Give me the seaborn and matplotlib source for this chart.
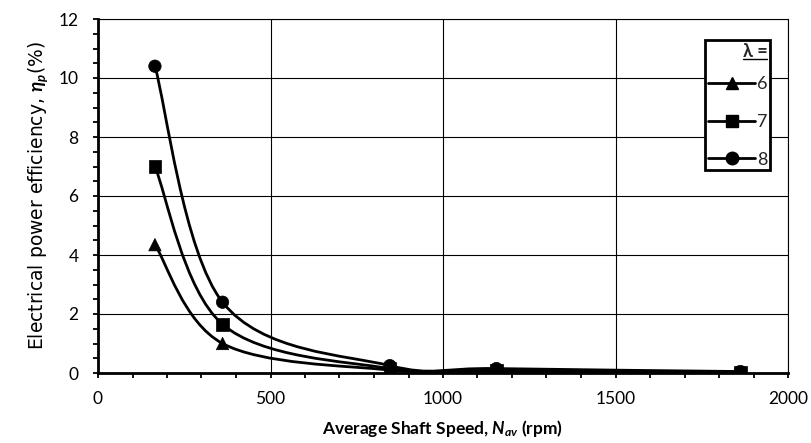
import numpy as np
import pandas as pd
import matplotlib
matplotlib.use("Agg")
import matplotlib.pyplot as plt
from matplotlib.path import Path
from matplotlib.patches import PathPatch
from matplotlib.ticker import MultipleLocator
from matplotlib.lines import Line2D
import seaborn as sns

# ---- data ----
speed = [165, 361, 846, 1155, 1862]
eff_l6 = [4.35, 1.0, 0.10, 0.05, 0.02]
eff_l7 = [7.0, 1.65, 0.15, 0.10, 0.03]
eff_l8 = [10.4, 2.4, 0.25, 0.15, 0.05]
lambdas = ["6", "7", "8"]
markers = {"6": "^", "7": "s", "8": "o"}

df = pd.DataFrame({
    "speed": speed * 3,
    "eff": eff_l6 + eff_l7 + eff_l8,
    "lam": ["6"] * 5 + ["7"] * 5 + ["8"] * 5,
})

sns.set_theme(style="white")
plt.rcParams["font.family"] = ["Lato", "DejaVu Sans"]
plt.rcParams["mathtext.fontset"] = "custom"
plt.rcParams["mathtext.it"] = "Lato:italic:bold"
plt.rcParams["mathtext.rm"] = "Lato"
plt.rcParams["mathtext.bf"] = "Lato:bold"

fig = plt.figure(figsize=(8.12, 4.43), dpi=100)
ax = fig.add_axes([98 / 812, 1 - 373 / 443, 690 / 812, 354 / 443])


def smooth_path(xs, ys):
    # Excel-style smoothed line: cubic Bezier segments through the data points
    pts = np.column_stack([xs, ys]).astype(float)
    n = len(pts)
    verts = [pts[0]]
    codes = [Path.MOVETO]
    for i in range(n - 1):
        p0 = pts[i - 1] if i > 0 else pts[i]
        p1 = pts[i]
        p2 = pts[i + 1]
        p3 = pts[i + 2] if i + 2 < n else pts[i + 1]
        c1 = p1 + (p2 - p0) / 6.0
        c2 = p2 - (p3 - p1) / 6.0
        verts += [c1, c2, p2]
        codes += [Path.CURVE4] * 3
    return Path(verts, codes)


for lam in lambdas:
    sub = df[df["lam"] == lam]
    ax.add_patch(PathPatch(smooth_path(sub["speed"], sub["eff"]), fill=False,
                           edgecolor="black", lw=2.0, zorder=3))

sns.scatterplot(data=df, x="speed", y="eff", style="lam", markers=markers,
                color="black", s=80, edgecolor="black", linewidth=0.5,
                legend=False, ax=ax, zorder=4)

ax.set_xlim(0, 2000)
ax.set_ylim(0, 12)
ax.xaxis.set_major_locator(MultipleLocator(500))
ax.xaxis.set_minor_locator(MultipleLocator(100))
ax.yaxis.set_major_locator(MultipleLocator(2))
ax.yaxis.set_minor_locator(MultipleLocator(0.5))
ax.grid(True, which="major", color="black", lw=0.8)
ax.set_axisbelow(True)
for s in ax.spines.values():
    s.set_color("black")
    s.set_linewidth(0.8)
ax.spines["left"].set_linewidth(2.0)
ax.spines["bottom"].set_linewidth(2.0)
ax.tick_params(axis="x", which="major", pad=9.4)
ax.tick_params(axis="y", which="major", pad=10.4)
ax.tick_params(axis="both", which="major", direction="out", length=3.6,
               width=1.3, color="black", labelsize=12.5, labelcolor="black",
               bottom=True, left=True)
ax.tick_params(axis="both", which="minor", direction="out", length=3.6,
               width=1.3, color="black", bottom=True, left=True)

ax.set_xlabel(r"Average Shaft Speed, $N_{av}$ (rpm)",
              fontsize=12.5, fontweight="bold", color="black", labelpad=8)
ax.set_ylabel(r"Electrical power efficiency, $\eta_{p}$(%)",
              fontsize=13.5, color="black", labelpad=6,
              fontfamily=["DejaVu Sans"])

handles = [Line2D([0], [0], color="black", lw=2.0, marker=markers[l],
                  markersize=9) for l in lambdas]
leg = ax.legend(handles, lambdas, loc="upper right",
                bbox_to_anchor=(0.974, (373 - 40) / 354), frameon=True,
                fancybox=False, edgecolor="black", fontsize=13,
                handlelength=2.6, handletextpad=0.1, labelspacing=1.2,
                borderpad=0.15, title="λ =", alignment="right",
                borderaxespad=0,
                title_fontproperties={"weight": "bold", "size": 13,
                                      "family": ["Lato", "DejaVu Sans"]})
leg._legend_box.sep = 11.9
leg.get_frame().set_linewidth(2.0)
leg.get_frame().set_facecolor("white")
leg.get_frame().set_alpha(1)

# underline the legend title
fig.canvas.draw()
bb = leg.get_title().get_window_extent().transformed(fig.transFigure.inverted())
fig.add_artist(Line2D([bb.x0, bb.x1], [bb.y0 + 0.002, bb.y0 + 0.002],
                      transform=fig.transFigure, color="black", lw=1.0))

fig.savefig("out.png", dpi=100)
